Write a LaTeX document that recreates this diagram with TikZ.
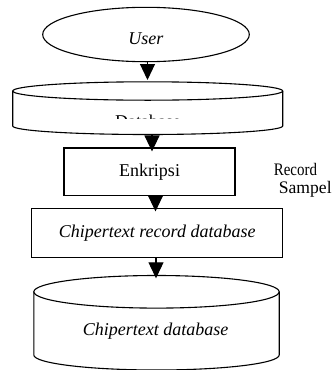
\documentclass[tikz,border=0pt]{standalone}
\usepackage{fontspec}
\setmainfont{Liberation Serif}
\usetikzlibrary{arrows.meta,shapes.geometric}
\begin{document}
\begin{tikzpicture}[x=1pt,y=-1pt,
  line width=1.1pt,
  flow/.style={-{Triangle[length=16pt,width=15pt]}},
  box/.style={draw, rectangle, inner sep=0pt},
  txt/.style={font=\fontsize{18}{21}\selectfont},
  txtb/.style={font=\fontsize{17.6}{18}\selectfont}]
\useasboundingbox (0,0) rectangle (332,370);

% User
\node[draw, ellipse, minimum width=206.6pt, minimum height=54.4pt, inner sep=0pt] (user) at (146,34.5) {};
\node[txt, anchor=base] (usertxt) at (146,44.3) {\textit{User}};

% Cylinder 1 (Database)
\draw[fill=white] (12.7,91) -- (12.7,126) arc[start angle=180,end angle=0,x radius=135,y radius=8.5] -- (282.7,91);
\draw (147.7,91) ellipse [x radius=135, y radius=9.2];
\begin{scope}
  \clip (13.5,100.8) rectangle (282,118);
  \node[txt, anchor=base] (dbtxt) at (148,127.3) {Database};
\end{scope}
\coordinate (c1top) at (147.5,80);
\coordinate (c1bot) at (152,134.5);

% Enkripsi
\node[box, txt, minimum width=171pt, minimum height=47.5pt] (enk) at (149.5,171.75) {Enkripsi};

% Record Sampel
\node[txtb, anchor=base west, inner sep=0pt] (rec1) at (273.3,175.7) {\scalebox{0.85}[1]{Record}};
\node[txtb, anchor=base west, inner sep=0pt] (rec2) at (278.3,193.3) {Sampel};

% Chipertext record database
\node[box, txt, minimum width=251pt, minimum height=49pt] (crd) at (157.2,232.8) {\textit{Chipertext record database}};

% Cylinder 2
\draw[fill=white] (33.8,291.8) -- (33.8,355) arc[start angle=180,end angle=0,x radius=122.7,y radius=15] -- (279.2,291.8);
\draw (156.5,291.8) ellipse [x radius=122.7, y radius=16.3];
\node[txt, anchor=base] (cdtxt) at (155.5,335) {\textit{Chipertext database}};
\coordinate (c2top) at (156,278.3);

% Arrows
\draw[flow] (user.south -| c1top) -- (c1top);
\draw[flow, shorten >=-4pt] (c1bot) -- (c1bot |- enk.north);
\draw[flow, shorten >=-3.7pt] (enk.south -| 155.5,0) -- (crd.north -| 155.5,0);
\draw[flow] (crd.south -| c2top) -- (c2top);
\end{tikzpicture}
\end{document}
